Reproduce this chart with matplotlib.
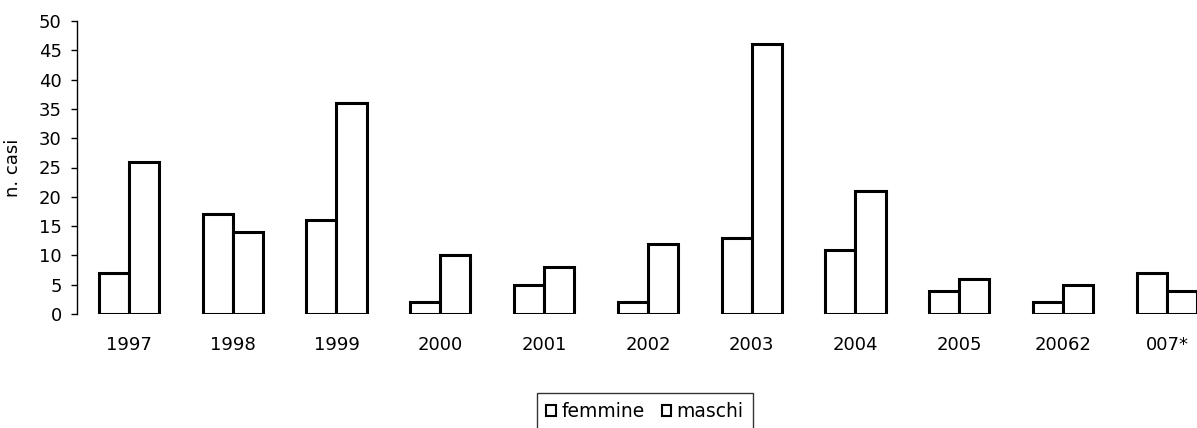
import numpy as np
import matplotlib
matplotlib.use("Agg")
import matplotlib.pyplot as plt

labels = ["1997", "1998", "1999", "2000", "2001", "2002", "2003", "2004",
          "2005", "20062", "007*"]
femmine = [7, 17, 16, 2, 5, 2, 13, 11, 4, 2, 7]
maschi = [26, 14, 36, 10, 8, 12, 46, 21, 6, 5, 4]

plt.rcParams["font.family"] = ["DejaVu Sans"]

W, H = 1197, 428
fig = plt.figure(figsize=(W / 100, H / 100), dpi=100)
# axes: spine at x=77px, y=0 at 314px, y=50 at 21px; runs off the right edge
ax = fig.add_axes([77 / W, 1 - 314 / H, 1 - 77 / W, (314 - 21) / H])

x = np.arange(len(labels))
w = 0.29
ax.bar(x - w / 2, femmine, w, color="white", edgecolor="black", lw=2.2, label="femmine")
ax.bar(x + w / 2, maschi, w, color="white", edgecolor="black", lw=2.2, label="maschi")

ax.set_xlim(-0.5, 10.29)
ax.set_ylim(0, 50)
ax.set_yticks(range(0, 51, 5))
ax.set_xticks(x)
ax.set_xticklabels(labels)
ax.tick_params(axis="x", length=0, pad=16, labelsize=13)
ax.tick_params(axis="y", length=4, width=1, labelsize=13, pad=7)
for s in ("top", "right", "bottom"):
    ax.spines[s].set_visible(False)
ax.spines["left"].set_linewidth(1)
ax.set_ylabel("n. casi", fontsize=13)
ax.yaxis.set_label_coords(-55 / (W - 77), 0.5)

leg = fig.legend(loc="upper left", bbox_to_anchor=(537 / W, 1 - 393 / H), ncol=2,
                 frameon=True, fancybox=False, fontsize=13.5, handlelength=0.5,
                 handleheight=0.5, handletextpad=0.3, columnspacing=0.9,
                 borderpad=0.5, borderaxespad=0)
leg.get_frame().set_edgecolor("black")
leg.get_frame().set_linewidth(1)
for h in leg.legend_handles:
    h.set_linewidth(1.5)

fig.savefig("out.png", dpi=100, facecolor="white")
